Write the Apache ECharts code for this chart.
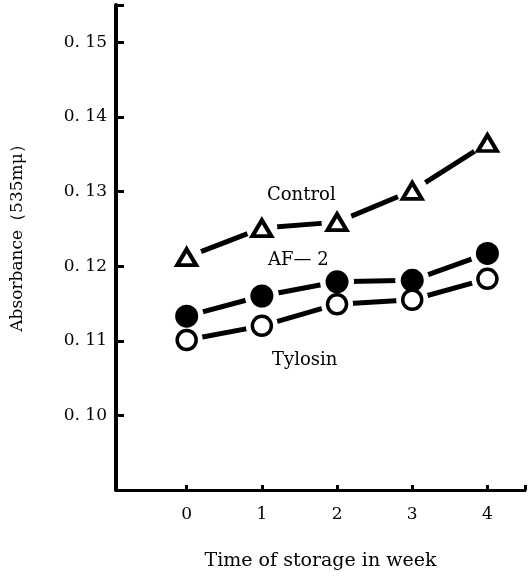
<!DOCTYPE html>
<html><head><meta charset="utf-8">
<script src="https://cdn.jsdelivr.net/npm/echarts@6/dist/echarts.min.js"></script>
<style>html,body{margin:0;padding:0;background:#fff}#c{width:528px;height:576px}</style>
</head><body><div id="c"></div>
<script>
const weeks = [0, 1, 2, 3, 4];
const control = [0.1212, 0.1251, 0.1259, 0.1301, 0.1365];
const af2 = [0.1133, 0.1160, 0.1179, 0.1181, 0.1217];
const tylosin = [0.1101, 0.1120, 0.1149, 0.1155, 0.1183];
const seriesNames = ['Control', 'AF\u2014 2', 'Tylosin'];
const xTitle = 'Time of storage in week';
const yTitle = 'Absorbance\uFF08535m\u03BC\uFF09';

const FONT = 'DejaVu Serif';
const pts = arr => weeks.map((w, i) => [w, arr[i]]);

function lineSeries(arr) {
  return {
    type: 'line', data: pts(arr), z: 2, symbol: 'none',
    lineStyle: { color: '#000', width: 5 },
    emphasis: { disabled: true }, silent: true, animation: false
  };
}
function markSeries(arr, symbol, size, fill, bw, bc, z) {
  return {
    type: 'scatter', data: pts(arr), z: z, symbol: symbol, symbolSize: size,
    itemStyle: { color: fill, borderColor: bc, borderWidth: bw, opacity: 1 },
    emphasis: { disabled: true }, silent: true, animation: false
  };
}

const chart = echarts.init(document.getElementById('c'));
chart.setOption({
  backgroundColor: '#fff',
  animation: false,
  grid: { left: 116, top: 5, width: 415, height: 488, containLabel: false },
  xAxis: {
    type: 'value', min: -0.94, max: 4.5, minInterval: 1, maxInterval: 1,
    axisLine: { show: true, onZero: false, lineStyle: { color: '#000', width: 3 } },
    axisTick: { show: true, inside: true, length: 5, lineStyle: { color: '#000', width: 3 } },
    axisLabel: {
      margin: 16, color: '#000', fontFamily: FONT, fontSize: 17,
      formatter: v => (Math.abs(v - Math.round(v)) < 1e-6 && v >= 0 && v <= 4) ? String(Math.round(v)) : ''
    },
    splitLine: { show: false },
    name: xTitle, nameLocation: 'middle', nameGap: 62,
    nameTextStyle: { color: '#000', fontFamily: FONT, fontSize: 19 }
  },
  yAxis: {
    type: 'value', min: 0.09, max: 0.155, interval: 0.01,
    axisLine: { show: true, onZero: false, lineStyle: { color: '#000', width: 4 } },
    axisTick: { show: true, inside: true, length: 8, lineStyle: { color: '#000', width: 3 } },
    axisLabel: {
      margin: 9, color: '#000', fontFamily: FONT, fontSize: 17,
      formatter: v => (v < 0.095 || v > 0.152) ? '' : '0. ' + String(Math.round(v * 100)).padStart(2, '0')
    },
    splitLine: { show: false }
  },
  graphic: [
    { type: 'text', left: 267, top: 186, style: { text: seriesNames[0], font: '18px "DejaVu Serif"', fill: '#000' } },
    { type: 'text', left: 268, top: 251, style: { text: seriesNames[1], font: '18px "DejaVu Serif"', fill: '#000' } },
    { type: 'text', left: 272, top: 351, style: { text: seriesNames[2], font: '18px "DejaVu Serif"', fill: '#000' } },
    { type: 'text', x: 18, y: 234, rotation: Math.PI / 2,
      style: { text: yTitle, font: '17px "DejaVu Serif"', fill: '#000', align: 'center', verticalAlign: 'middle' } }
  ],
  series: [
    lineSeries(control),
    lineSeries(af2),
    lineSeries(tylosin),
    markSeries(control, 'circle', 31, '#fff', 0, '#fff', 3),
    markSeries(af2, 'circle', 34, '#fff', 0, '#fff', 3),
    markSeries(tylosin, 'circle', 32, '#fff', 0, '#fff', 3),
    markSeries(control, 'triangle', [19, 16], '#fff', 4, '#000', 4),
    markSeries(tylosin, 'circle', 19, '#fff', 3.5, '#000', 5),
    markSeries(af2, 'circle', 23, '#000', 0, '#000', 6)
  ]
});
</script></body></html>
